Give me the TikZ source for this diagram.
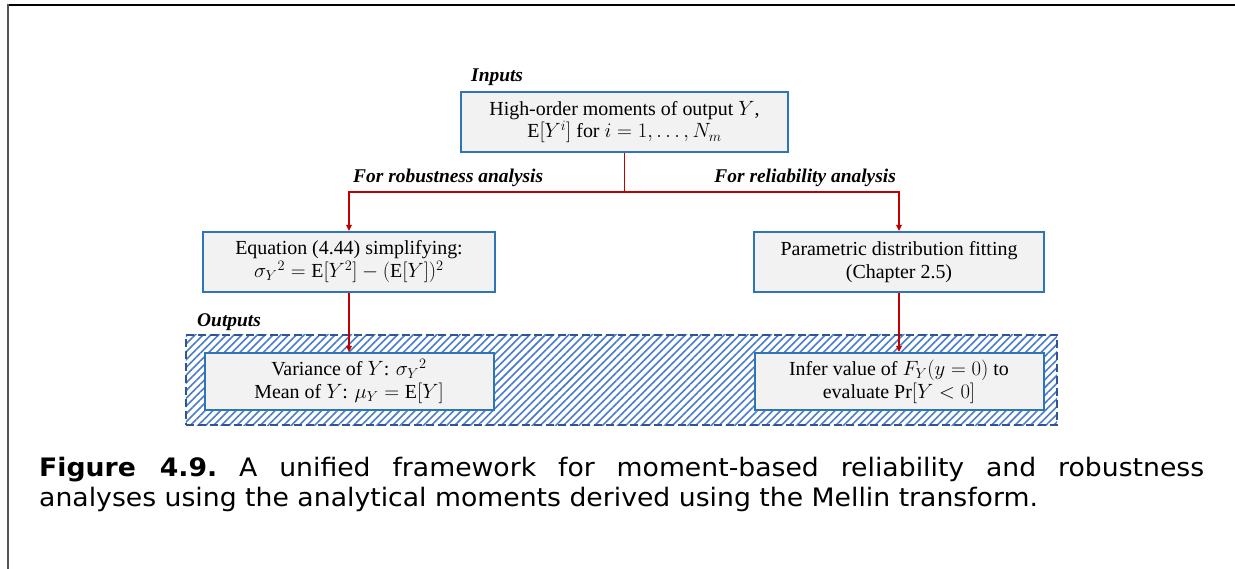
\documentclass[tikz,border=0pt]{standalone}
\usepackage{fontspec}
\setmainfont{Liberation Serif}
\newfontfamily\capfont[FakeStretch=1.05]{DejaVu Sans}
\usetikzlibrary{arrows.meta,patterns.meta}

\definecolor{boxblue}{HTML}{2E75B6}
\definecolor{boxfill}{HTML}{F2F2F2}
\definecolor{flowred}{HTML}{C00000}
\definecolor{hatchblue}{HTML}{4A7CC8}
\definecolor{zoneblue}{HTML}{2F5597}
\definecolor{framegray}{HTML}{555555}

\begin{document}
\begin{tikzpicture}[x=1bp,y=-1bp,
  stepbox/.style={draw=boxblue, line width=2bp, fill=boxfill, inner sep=0pt,
    align=center, font=\fontsize{20}{23}\selectfont},
  tag/.style={inner sep=0pt, font=\fontsize{19.5}{22}\selectfont\bfseries\itshape},
  flow/.style={draw=flowred, line width=1.8bp},
  flowarrow/.style={flow, -{Triangle[length=6bp,width=5.5bp]}},
  zone/.style={draw=zoneblue, line width=2.5bp, dash pattern=on 8bp off 4bp,
    pattern={Lines[angle=45,distance=5.5bp,line width=1.6bp]}, pattern color=hatchblue,
    inner sep=0pt}
]
\useasboundingbox (0,0) rectangle (1235,569);

% page frame
\draw[black, line width=1.6bp] (7,5) -- (1235,5);
\draw[framegray, line width=2.2bp] (8,4.2) -- (8,569);

% hatched outputs zone
\node[zone, minimum width=871bp, minimum height=90bp] (zoneout) at (621.5,380) {};

% boxes
\node[stepbox, minimum width=327bp, minimum height=60bp] (inp) at (624.5,122)
  {High-order moments of output $Y$,\\ $\mathrm{E}\big[Y^{i}\big]$ for $i=1,\ldots,N_m$};
\node[stepbox, minimum width=292bp, minimum height=60bp] (eqn) at (349,262)
  {Equation (4.44) simplifying:\\ ${\sigma_Y}^2=\mathrm{E}[Y^2]-(\mathrm{E}[Y])^2$};
\node[stepbox, minimum width=290bp, minimum height=60bp] (fit) at (899,262)
  {Parametric distribution fitting\\ (Chapter 2.5)};
\node[stepbox, minimum width=289bp, minimum height=57bp] (var) at (349,381.5)
  {Variance of $Y$: ${\sigma_Y}^2$\\ Mean of $Y$: $\mu_Y=\mathrm{E}[Y]$};
\node[stepbox, minimum width=289bp, minimum height=57bp] (inf) at (899,381.5)
  {Infer value of $F_Y(y=0)$ to\\ evaluate $\Pr[Y<0]$};

% labels
\node[tag, anchor=base west] (lin) at (471,82) {Inputs};
\node[tag, anchor=base west] (lout) at (197,327) {Outputs};
\node[tag, anchor=base west] (lrob) at (353,183) {For robustness analysis};
\node[tag, anchor=base east] (lrel) at (896,183) {For reliability analysis};

% connectors
\coordinate (split) at (inp.south |- 0,192);
\draw[flow] (inp.south) -- (split);
\draw[flowarrow] (split) -| (eqn.north);
\draw[flowarrow] (split) -| (fit.north);
\draw[flowarrow] (eqn.south) -- (var.north);
\draw[flowarrow] (fit.south) -- (inf.north);

% caption
\node[anchor=north west, inner sep=0pt, text width=1165bp, align=justify,
  font=\capfont\fontsize{25.5}{30}\selectfont\frenchspacing] (cap) at (39,457)
  {\textbf{Figure 4.9.} A unified framework for moment-based reliability and robustness\linebreak
   analyses using the analytical moments derived using the Mellin transform.};
\end{tikzpicture}
\end{document}
